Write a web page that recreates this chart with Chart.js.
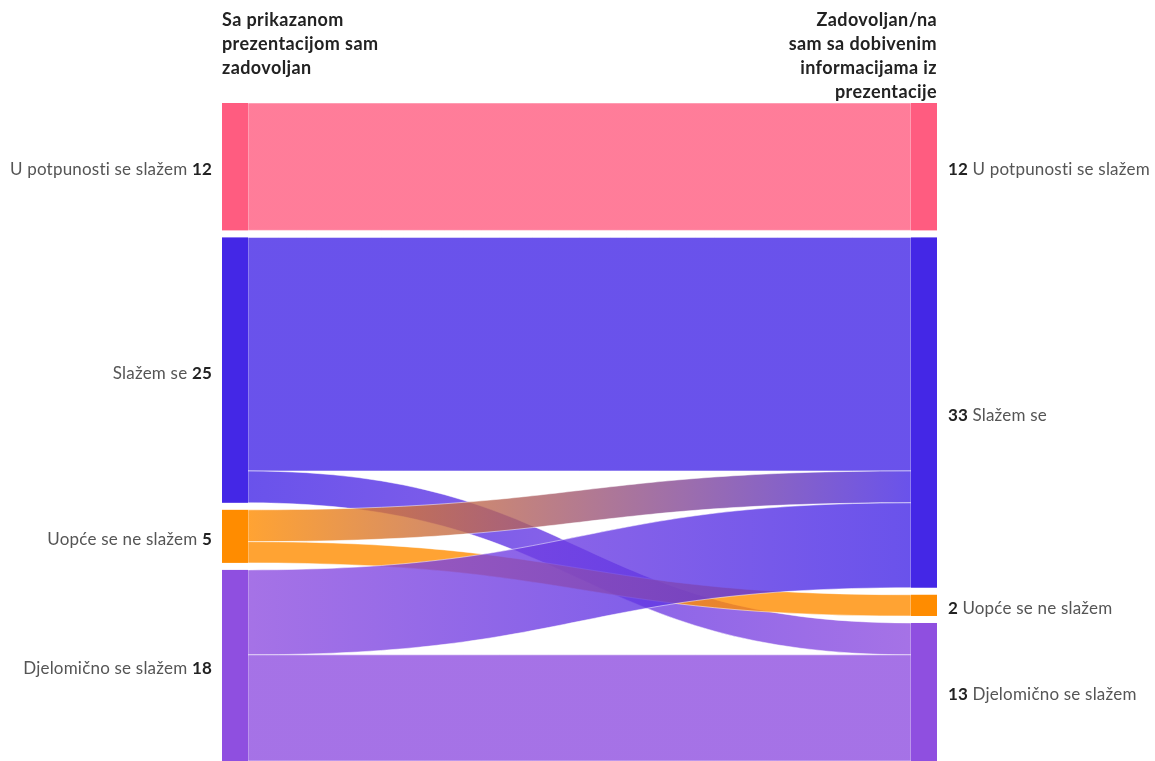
<!DOCTYPE html>
<html>
<head>
<meta charset="utf-8">
<script src="https://cdn.jsdelivr.net/npm/chart.js@4.4.1/dist/chart.umd.min.js"></script>
<style>
  html, body { margin: 0; padding: 0; background: #fff; }
  #wrap { width: 1155px; height: 761px; }
</style>
</head>
<body>
<div id="wrap"><canvas id="sankey" width="1155" height="761"></canvas></div>
<script>
// column headers
const leftTitle = ["Sa prikazanom", "prezentacijom sam", "zadovoljan"];
const rightTitle = ["Zadovoljan/na", "sam sa dobivenim", "informacijama iz", "prezentacije"];

// answer categories (same on both sides)
const nodeLabels = [
  "U potpunosti se slažem",
  "Slažem se",
  "Uopće se ne slažem",
  "Djelomično se slažem",
];
const nodeColors = ["#ff5c80", "#4427e6", "#ff8c00", "#8f4fe0"];

// flows: left answer -> right answer
const flowFrom = [0, 1, 1, 2, 2, 3, 3];
const flowTo = [0, 1, 3, 1, 2, 1, 3];
const flowValue = [12, 22, 3, 3, 2, 8, 10];

const GAP = 0.66; // vertical gap between nodes, in value units
const NODE_W = 26; // node bar width, px
const FONT = "Lato, 'Noto Sans', sans-serif";

function sumBy(keyArr, idx) {
  let s = 0;
  flowValue.forEach((v, i) => {
    if (keyArr[i] === idx) s += v;
  });
  return s;
}

const leftTotals = nodeLabels.map((_, i) => sumBy(flowFrom, i));
const rightTotals = nodeLabels.map((_, i) => sumBy(flowTo, i));
const grandTotal = flowValue.reduce((a, b) => a + b, 0);

// node start positions in value units
function nodeStarts(totals) {
  const starts = [];
  let y = 0;
  totals.forEach((t) => {
    starts.push(y);
    y += t + GAP;
  });
  return starts;
}

function rgba(hex, a) {
  const n = parseInt(hex.slice(1), 16);
  return `rgba(${(n >> 16) & 255},${(n >> 8) & 255},${n & 255},${a})`;
}

const sankeyPlugin = {
  id: "sankey",
  afterDatasetsDraw(chart) {
    const ctx = chart.ctx;
    const xs = chart.scales.x;
    const ys = chart.scales.y;
    const xL = xs.getPixelForValue(0);
    const xR = xs.getPixelForValue(1);

    const lStart = nodeStarts(leftTotals);
    const rStart = nodeStarts(rightTotals);
    const lOff = lStart.slice();
    const rOff = rStart.slice();

    // flows, left side stacked by target, right side by source
    const order = flowValue.map((_, i) => i);
    order.sort((a, b) => flowFrom[a] - flowFrom[b] || flowTo[a] - flowTo[b]);
    const rOrder = order.slice().sort((a, b) => flowTo[a] - flowTo[b] || flowFrom[a] - flowFrom[b]);
    const rPos = {};
    rOrder.forEach((i) => {
      rPos[i] = rOff[flowTo[i]];
      rOff[flowTo[i]] += flowValue[i];
    });

    order.forEach((i) => {
      const v = flowValue[i];
      const y0 = lOff[flowFrom[i]];
      lOff[flowFrom[i]] += v;
      const y1 = rPos[i];
      const x0 = xL + NODE_W;
      const x1 = xR - NODE_W;
      const mx = (x0 + x1) / 2;
      const a0 = ys.getPixelForValue(y0);
      const b0 = ys.getPixelForValue(y0 + v);
      const a1 = ys.getPixelForValue(y1);
      const b1 = ys.getPixelForValue(y1 + v);

      const grad = ctx.createLinearGradient(x0, 0, x1, 0);
      grad.addColorStop(0, rgba(nodeColors[flowFrom[i]], 0.8));
      grad.addColorStop(1, rgba(nodeColors[flowTo[i]], 0.8));

      ctx.save();
      ctx.beginPath();
      ctx.moveTo(x0, a0);
      ctx.bezierCurveTo(mx, a0, mx, a1, x1, a1);
      ctx.lineTo(x1, b1);
      ctx.bezierCurveTo(mx, b1, mx, b0, x0, b0);
      ctx.closePath();
      ctx.fillStyle = grad;
      ctx.fill();
      ctx.strokeStyle = "rgba(255,255,255,0.5)";
      ctx.lineWidth = 1;
      ctx.stroke();
      ctx.restore();
    });

    // nodes
    nodeLabels.forEach((_, i) => {
      ctx.fillStyle = nodeColors[i];
      let t = ys.getPixelForValue(lStart[i]);
      let b = ys.getPixelForValue(lStart[i] + leftTotals[i]);
      ctx.fillRect(xL, t, NODE_W, b - t);
      t = ys.getPixelForValue(rStart[i]);
      b = ys.getPixelForValue(rStart[i] + rightTotals[i]);
      ctx.fillRect(xR - NODE_W, t, NODE_W, b - t);
    });

    // node labels
    ctx.save();
    ctx.textBaseline = "middle";
    ctx.letterSpacing = "0.2px";
    nodeLabels.forEach((name, i) => {
      const lc = ys.getPixelForValue(lStart[i] + leftTotals[i] / 2) + 3;
      const num = String(leftTotals[i]);
      ctx.font = "bold 17px " + FONT;
      const nw = ctx.measureText(num).width;
      ctx.textAlign = "right";
      ctx.fillStyle = "#222";
      ctx.fillText(num, xL - 10, lc);
      ctx.font = "17px " + FONT;
      ctx.fillStyle = "#555";
      ctx.fillText(name + " ", xL - 10 - nw, lc);

      const rc = ys.getPixelForValue(rStart[i] + rightTotals[i] / 2) + 3;
      const rnum = String(rightTotals[i]);
      ctx.textAlign = "left";
      ctx.font = "bold 17px " + FONT;
      ctx.fillStyle = "#222";
      ctx.fillText(rnum, xR + 11, rc);
      const rw = ctx.measureText(rnum + " ").width;
      ctx.font = "17px " + FONT;
      ctx.fillStyle = "#555";
      ctx.fillText(name, xR + 11 + rw, rc);
    });

    // headers
    ctx.font = "bold 18px " + FONT;
    ctx.letterSpacing = "0.4px";
    ctx.fillStyle = "#222";
    ctx.textBaseline = "alphabetic";
    ctx.textAlign = "left";
    leftTitle.forEach((line, k) => ctx.fillText(line, xL, 26 + k * 24));
    ctx.textAlign = "right";
    rightTitle.forEach((line, k) => ctx.fillText(line, xR, 26 + k * 24));
    ctx.restore();
  },
};

new Chart(document.getElementById("sankey"), {
  type: "scatter",
  data: { datasets: [{ data: [] }] },
  options: {
    responsive: false,
    animation: false,
    events: [],
    layout: { padding: { top: 103, left: 222, right: 218, bottom: 0 } },
    plugins: { legend: { display: false }, tooltip: { enabled: false } },
    scales: {
      x: { type: "linear", min: 0, max: 1, display: false },
      y: {
        type: "linear",
        min: 0,
        max: grandTotal + GAP * (nodeLabels.length - 1),
        reverse: true,
        display: false,
      },
    },
  },
  plugins: [sankeyPlugin],
});
</script>
</body>
</html>
